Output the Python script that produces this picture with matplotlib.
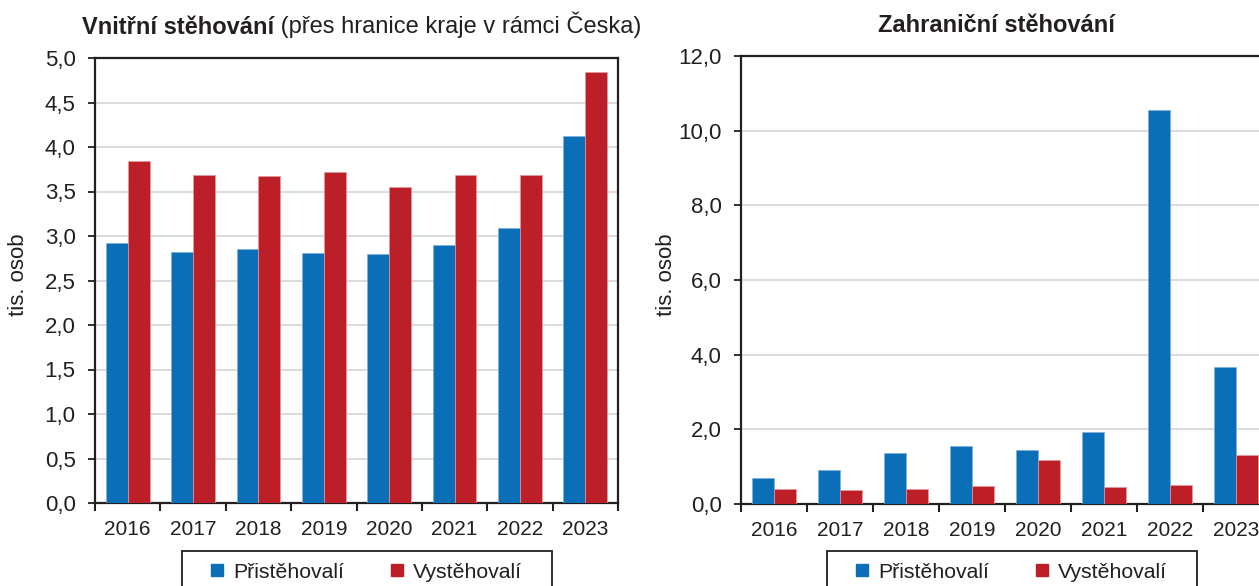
import matplotlib.pyplot as plt
import numpy as np

plt.rcParams['font.family'] = ['Liberation Sans', 'DejaVu Sans']

# data (tis. osob)
years = ['2016', '2017', '2018', '2019', '2020', '2021', '2022', '2023']
vnitrni_prist = [2.92, 2.82, 2.85, 2.81, 2.80, 2.90, 3.09, 4.12]
vnitrni_vyst = [3.84, 3.69, 3.67, 3.72, 3.55, 3.69, 3.68, 4.84]
zahr_prist = [0.69, 0.90, 1.36, 1.55, 1.45, 1.92, 10.55, 3.68]
zahr_vyst = [0.41, 0.37, 0.41, 0.49, 1.17, 0.46, 0.51, 1.32]

blue = '#0B6FB8'
red = '#BC1F27'
dark = '#231F20'
W, H = 1259, 586

fig = plt.figure(figsize=(W / 100, H / 100), dpi=100)


def panel(rect, prist, vyst, ymax, step, label_x):
    ax = fig.add_axes(rect)
    x = np.arange(len(years))
    bw = 0.335
    ax.bar(x - bw / 2, prist, bw, color=blue, edgecolor='#7fb0dc', linewidth=0.5, zorder=3)
    ax.bar(x + bw / 2, vyst, bw, color=red, edgecolor='#e39a9e', linewidth=0.5, zorder=3)
    ax.set_xlim(-0.5, len(years) - 0.5)
    ax.set_ylim(0, ymax)
    yt = np.arange(0, ymax + step / 2, step)
    ax.set_yticks(yt)
    ax.set_yticklabels([f'{v:.1f}'.replace('.', ',') for v in yt])
    ax.yaxis.grid(True, color='#d9d9d9', linewidth=1.3, zorder=0)
    ax.set_axisbelow(True)
    ax.set_xticks(np.arange(-0.5, len(years), 1.0))
    ax.set_xticklabels([])
    ax.set_xticks(x, minor=True)
    ax.set_xticklabels(years, minor=True)
    ax.tick_params(axis='x', which='major', length=6, width=1.5, color=dark, direction='out')
    ax.tick_params(axis='x', which='minor', length=0, pad=12, labelsize=15, labelcolor=dark)
    ax.tick_params(axis='y', length=5, width=1.3, color=dark, labelsize=16, labelcolor=dark, pad=9)
    for s in ax.spines.values():
        s.set_color(dark)
        s.set_linewidth(1.6)
    ax.set_ylabel('tis. osob', fontsize=16, color=dark)
    ax.yaxis.set_label_coords(label_x, 0.512)
    return ax


ax1 = panel([95 / W, 1 - 503 / H, 523 / W, 445 / H], vnitrni_prist, vnitrni_vyst, 5.0, 0.5, -0.127)
ax2 = panel([741 / W, 1 - 504 / H, 528 / W, 448 / H], zahr_prist, zahr_vyst, 12.0, 2.0, -0.122)

# titles
t1 = fig.text(82 / W, 1 - 27 / H, 'Vnitřní stěhování', fontsize=17, fontweight='bold',
              color=dark, ha='left', va='center')
ax1.annotate(' (přes hranice kraje v rámci Česka)', xy=(1, 0), xycoords=t1,
             fontsize=17, color=dark, ha='left', va='bottom')
fig.text(996 / W, 1 - 25 / H, 'Zahraniční stěhování', fontsize=17, fontweight='bold',
         color=dark, ha='center', va='center')

# legends: frame drawn separately, boxes run past the bottom edge
for x0 in [182, 827]:
    fig.patches.append(plt.Rectangle((x0 / W, -0.1), 370 / W, 0.1 + 1 - 551 / H,
                                     transform=fig.transFigure, fill=False,
                                     edgecolor=dark, linewidth=1.3))
    h = [plt.Rectangle((0, 0), 1, 1, color=blue), plt.Rectangle((0, 0), 1, 1, color=red)]
    leg = fig.legend(h, ['Přistěhovalí', 'Vystěhovalí'], loc='center left',
                     bbox_to_anchor=((x0 + 29) / W, 1 - 572 / H), ncol=2, fontsize=15.3,
                     frameon=False, handlelength=0.55, handleheight=0.55,
                     handletextpad=0.5, columnspacing=2.2, borderpad=0, borderaxespad=0)
    for t in leg.get_texts():
        t.set_color(dark)

fig.savefig('out.png', dpi=100)
